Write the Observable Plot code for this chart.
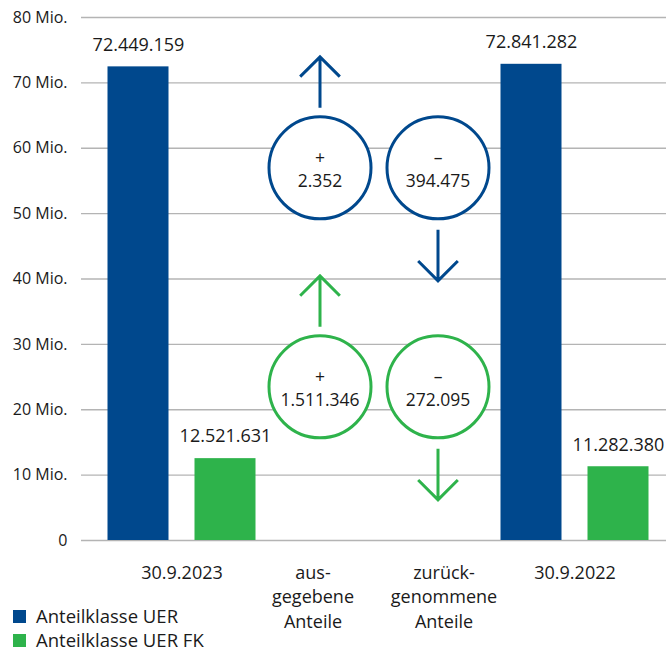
<!DOCTYPE html>
<html>
<head>
<meta charset="utf-8">
<script src="https://cdn.jsdelivr.net/npm/d3@7"></script>
<script src="https://cdn.jsdelivr.net/npm/@observablehq/plot@0.6"></script>
<style>
  body { margin: 0; background: #fff; font-family: "Open Sans", sans-serif; color: #1a1a1a; }
  #wrap { position: relative; width: 666px; height: 653px; }
  #legend { position: absolute; left: 13px; top: 604px; }
  #legend .lg-swatch { padding-bottom: 0 !important; line-height: 24px; height: 24px; }
  #legend .lg-swatch > * { overflow: visible !important; text-overflow: clip !important; }
  #legend .lg-swatch svg { margin-right: 10px !important; }
</style>
</head>
<body>
<div id="wrap"></div>
<script>
// ---- data ----
const categories = ["30.9.2023", "ausgegebene Anteile", "zurückgenommene Anteile", "30.9.2022"];
const categoryLabels = ["30.9.2023", "aus-\ngegebene\nAnteile", "zurück-\ngenommene\nAnteile", "30.9.2022"];
const series = ["Anteilklasse UER", "Anteilklasse UER FK"];
const dates = ["30.9.2023", "30.9.2022"];
const uerValues = [72449159, 72841282];
const fkValues = [12521631, 11282380];
const flowCategories = ["ausgegebene Anteile", "zurückgenommene Anteile"];
const uerFlows = [2352, -394475];
const fkFlows = [1511346, -272095];
const yTicks = [0, 10e6, 20e6, 30e6, 40e6, 50e6, 60e6, 70e6, 80e6];
const colors = ["#00488d", "#2eb34b"];

// ---- helpers ----
const fmt = d3.formatLocale({decimal: ",", thousands: ".", grouping: [3], currency: ["", "€"]}).format(",d");
const uerBars = dates.map((c, i) => ({category: c, series: series[0], value: uerValues[i]}));
const fkBars = dates.map((c, i) => ({category: c, series: series[1], value: fkValues[i]}));
const flowRows = flowCategories.map((c, i) => [
  {category: c, series: series[0], value: uerFlows[i]},
  {category: c, series: series[1], value: fkFlows[i]}
]);
const circleLevel = {[series[0]]: 57e6, [series[1]]: 23.5e6};

const flowMarks = flowRows.flatMap((rows, i) => {
  const dx = i === 0 ? 7 : -6;
  const up = i === 0;
  return [
    Plot.vector(rows, {
      x: "category", y: d => circleLevel[d.series], dx, dy: up ? -60 : 62,
      length: 51, rotate: up ? 0 : 180, anchor: "start", r: 6.8,
      stroke: "series", strokeWidth: 3, strokeLinecap: "butt", strokeLinejoin: "miter"
    }),
    Plot.dot(rows, {
      x: "category", y: d => circleLevel[d.series], dx, r: 51,
      stroke: "series", strokeWidth: 3, fill: "white"
    }),
    Plot.text(rows, {
      x: "category", y: d => circleLevel[d.series], dx,
      text: d => (d.value > 0 ? "+" : "–") + "\n" + fmt(Math.abs(d.value)),
      fontSize: 17.5, lineHeight: 1.33, fill: "#1a1a1a"
    })
  ];
});

const chart = Plot.plot({
  width: 666,
  height: 653,
  marginTop: 17,
  marginBottom: 113,
  marginLeft: 81,
  marginRight: 0,
  style: {fontFamily: "Open Sans, sans-serif", fontSize: "15px", color: "#1a1a1a", background: "white"},
  x: {domain: categories, range: [115.5, 639.5], padding: 0, axis: null},
  y: {domain: [0, 80e6], axis: null},
  color: {domain: series, range: colors},
  marks: [
    Plot.ruleY(yTicks, {stroke: "#b4b4b4", strokeWidth: 1.3}),
    Plot.axisY(yTicks, {
      tickSize: 0, tickPadding: 14, fontSize: 16, fill: "#1a1a1a", label: null,
      tickFormat: d => d === 0 ? "0" : `${d / 1e6} Mio.`
    }),
    Plot.barY(uerBars, {x: "category", y: "value", fill: "series", dx: -43.5, insetLeft: 35, insetRight: 35}),
    Plot.barY(fkBars, {x: "category", y: "value", fill: "series", dx: 43.5, insetLeft: 35, insetRight: 35}),
    Plot.text(uerBars, {x: "category", y: "value", text: d => fmt(d.value), dx: -43.5, dy: -22, fontSize: 18, fill: "#1a1a1a"}),
    Plot.text(fkBars, {x: "category", y: "value", text: d => fmt(d.value), dx: 43.5, dy: -22, fontSize: 18, fill: "#1a1a1a"}),
    ...flowMarks,
    Plot.text(categories, {
      x: d => d, text: (d, i) => categoryLabels[i], frameAnchor: "bottom",
      lineAnchor: "top", dy: 21, lineHeight: 1.36, fontSize: 18, fill: "#1a1a1a"
    })
  ]
});

const legend = Plot.legend({
  color: {domain: series, range: colors, type: "ordinal"},
  legend: "swatches",
  columns: 1,
  swatchSize: 13,
  className: "lg",
  style: {fontFamily: "Open Sans, sans-serif", fontSize: "18.5px", color: "#1a1a1a", margin: "0"}
});
legend.id = "legend";

const wrap = document.getElementById("wrap");
wrap.appendChild(chart);
wrap.appendChild(legend);
</script>
</body>
</html>
